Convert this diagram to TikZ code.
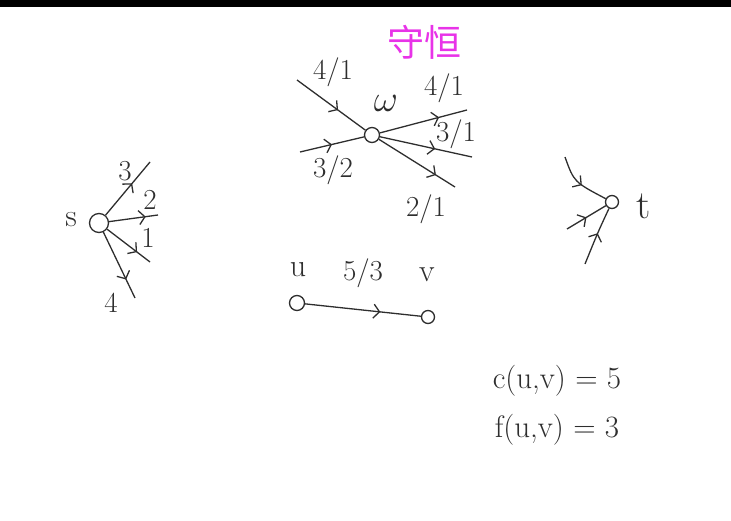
\documentclass[tikz,border=0pt]{standalone}
\usepackage{fontspec}
\newfontfamily\cjk{Noto Sans CJK SC}
\usepackage{xcolor}
\usetikzlibrary{positioning,arrows.meta,decorations.markings}
\definecolor{inkgray}{HTML}{2E2E2E}
\definecolor{titlemag}{HTML}{E833E8}

\begin{document}
\begin{tikzpicture}[x=1pt, y=-1pt,
    ink/.style={draw=inkgray, line width=1.3pt},
    vert/.style={ink, circle, inner sep=0pt, minimum size=#1},
    vert/.default=15pt,
    flow/.style={ink, postaction={decorate},
        decoration={markings, mark=at position #1 with
            {\arrow[inkgray, line width=1.3pt]{Straight Barb[length=6pt, width=14pt]}}}},
    flow/.default=0.6,
    hand/.style={text=inkgray, font=\fontsize{29}{29}\selectfont, inner sep=0pt}]
    \useasboundingbox (0,0) rectangle (731,521);
    \fill[black] (0,0) rectangle (731,7);

    % title
    \node[text=titlemag, font=\cjk\fontsize{37}{37}\selectfont] (title) at (424,42) {守恒};

    % source s
    \node[vert=19pt] (s) at (99,223) {};
    \node[hand, font=\fontsize{32}{32}\selectfont] (ls) at (71,220) {s};
    \foreach \n/\x/\y/\lab/\lx/\ly/\pos in {1/150/162/3/125/171/0.6, 2/158/215/2/150/200/0.75,
                                        3/150/262/1/148/238/0.7, 4/135/298/4/111/303/0.72}
    {
        \coordinate (s\n) at (\x,\y);
        \draw[flow=\pos] (s) -- (s\n);
        \node[hand] (ls\n) at (\lx,\ly) {\lab};
    }

    % inner vertex w
    \node[vert] (w) at (372,135) {};
    \node[hand, scale=1.5] (lw) at (386,103) {$\omega$};
    \coordinate (wa) at (297,80);
    \coordinate (wb) at (300,152);
    \draw[flow=0.6] (wa) -- (w);
    \draw[flow=0.5] (wb) -- (w);
    \node[hand] (lwa) at (333,72) {4/1};
    \node[hand] (lwb) at (333,170) {3/2};
    \foreach \n/\x/\y/\lab/\lx/\ly/\pos in {c/467/110/4/444/88/0.68, d/472/157/3/456/134/0.6,
                                        e/455/187/2/426/209/0.75}
    {
        \coordinate (w\n) at (\x,\y);
        \draw[flow=\pos] (w) -- (w\n);
        \node[hand] (lw\n) at (\lx,\ly) {\lab/1};
    }

    % sink t
    \node[vert=13pt] (t) at (612,202) {};
    \node[hand, font=\fontsize{40}{40}\selectfont] (lt) at (644,206) {t};
    \coordinate (ta) at (565,157);
    \coordinate (tb) at (567,229);
    \coordinate (tc) at (585,264);
    \draw[flow=0.55] (ta) .. controls (574,182) .. (t);
    \draw[flow=0.5] (tb) -- (t);
    \draw[flow=0.55] (tc) .. controls (598,232) .. (t);

    % edge u -> v
    \node[vert] (u) at (297,303) {};
    \node[vert=13pt] (v) at (428,317) {};
    \node[hand, font=\fontsize{32}{32}\selectfont] (lu) at (298,270) {u};
    \node[hand, font=\fontsize{32}{32}\selectfont] (lv) at (427,275) {v};
    \draw[flow=0.65] (u) -- (v) node[hand, pos=0.5, above=22pt] (luv) {5/3};

    % capacity and flow
    \node[hand, font=\fontsize{31}{31}\selectfont] (cap) at (557,381) {c(u,v) = 5};
    \node[hand, font=\fontsize{31}{31}\selectfont] (fl) at (557,430) {f(u,v) = 3};
\end{tikzpicture}
\end{document}
